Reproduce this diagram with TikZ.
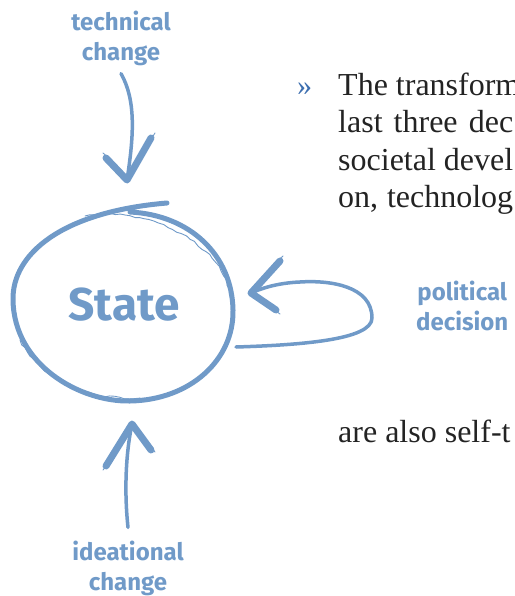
\documentclass[tikz,border=0pt]{standalone}
\usepackage{fontspec}
\setmainfont{Liberation Serif}
\newfontfamily\sketchfont{Fira Sans}
\usetikzlibrary{calc, positioning, decorations.pathmorphing}
\definecolor{chalk}{RGB}{112,154,200}
\definecolor{bullet}{RGB}{60,110,175}
\definecolor{bodytext}{RGB}{35,35,35}

\tikzset{
	brush/.style={draw=chalk, line width=4pt, line cap=round, line join=round},
	sketch/.style={draw=chalk, line width=.9pt, line cap=round, decorate,
		decoration={random steps, segment length=5pt, amplitude=1pt}},
	barb/.style={draw=chalk, line width=7pt, line cap=round, line join=round},
	label/.style={text=chalk, font=\sketchfont\bfseries\fontsize{24}{30}\selectfont, align=center, inner sep=0pt},
	line/.style={text=bodytext, font=\fontsize{32}{37}\selectfont, anchor=base west, inner sep=0pt}
}

\begin{document}
\begin{tikzpicture}[x=1pt, y=-1pt]
	\pgfmathsetseed{7}
	\useasboundingbox (0,0) rectangle (514,596);
	\clip (0,0) rectangle (514,596);

	% body text
	\node[text=bullet, font=\fontsize{30}{34}\selectfont, anchor=base west, inner sep=0pt] (mark) at (297,96) {»};
	\node[line] (l1) at (338,96) {The transform};
	\node[line] (l2) at (338,133) {\makebox[175pt][s]{last three dec}};
	\node[line] (l3) at (338,170) {\makebox[175pt][s]{societal devel}};
	\node[line] (l4) at (338,207) {\makebox[175pt][s]{on, technolog}};
	\node[line] (l5) at (338,442) {are also self-t};

	% labels
	\node[label] (tech) at (121,38) {technical\\change};
	\node[label] (pol) [anchor=west] at (416,306) {political\\decision};
	\node[label] (idea) at (128,568) {ideational\\change};
	\node[text=chalk, font=\sketchfont\bfseries\fontsize{46}{50}\selectfont, inner sep=0pt] (state) at (124,305) {State};

	% the circle
	\draw[brush, line width=5pt] (167,203) .. controls (60,212) and (12,255) .. (13,300)
		.. controls (14,365) and (80,402) .. (130,401)
		.. controls (190,400) and (234,360) .. (233,310)
		.. controls (232,255) and (190,215) .. (130,212);
	\draw[sketch] (85,216) .. controls (140,205) and (225,240) .. (231,300);
	\draw[sketch] (20,340) .. controls (40,380) and (90,400) .. (140,398);

	% technical change
	\coordinate (techtip) at (127,180);
	\draw[brush, line width=3.5pt] ([yshift=-8pt]tech.south) .. controls (136,100) and (134,135) .. (techtip);
	\draw[barb] (106,158) -- (techtip) -- (151,138);
	\draw[sketch] (103,153) -- (techtip) -- (155,133);

	% ideational change
	\coordinate (ideatip) at (132,424);
	\draw[brush, line width=3.5pt] ([yshift=13pt]idea.north) .. controls (124,490) and (126,452) .. (ideatip);
	\draw[barb] (106,466) -- (ideatip) -- (151,450);
	\draw[sketch] (103,470) -- (ideatip) -- (155,452);

	% political decision
	\coordinate (poltail) at (236,347);
	\coordinate (poltip) at (251,293);
	\draw[brush, line width=3.5pt] (poltail) .. controls (300,345) and (372,340) .. (372,318)
		.. controls (372,286) and (330,280) .. (300,282)
		.. controls (276,283) and (260,289) .. (poltip);
	\draw[barb] (280,261) -- (poltip) -- (276,310);
	\draw[sketch] (283,256) -- (poltip) -- (280,314);
\end{tikzpicture}
\end{document}
